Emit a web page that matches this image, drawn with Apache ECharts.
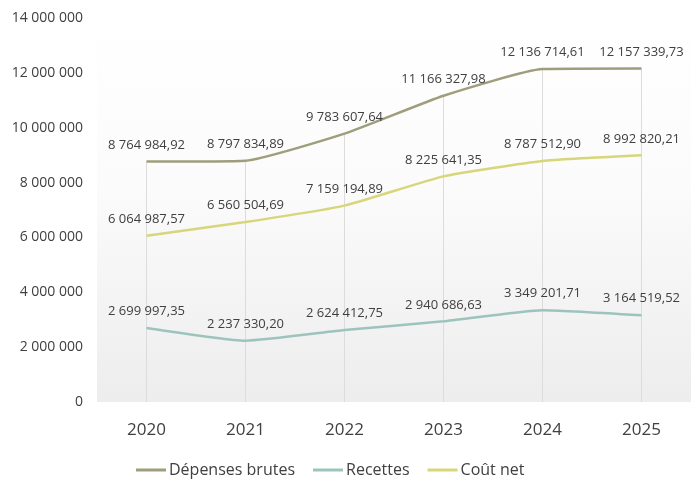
<!DOCTYPE html>
<html>
<head>
<meta charset="utf-8">
<script src="https://cdn.jsdelivr.net/npm/echarts@6/dist/echarts.min.js"></script>
<style>
  html, body { margin: 0; padding: 0; background: #ffffff; }
  #chart { width: 691px; height: 479px; }
</style>
</head>
<body>
<div id="chart"></div>
<script>
// Budget par année : dépenses brutes, recettes et coût net
const years = ['2020', '2021', '2022', '2023', '2024', '2025'];
const depensesBrutes = [8764984.92, 8797834.89, 9783607.64, 11166327.98, 12136714.61, 12157339.73];
const recettes = [2699997.35, 2237330.20, 2624412.75, 2940686.63, 3349201.71, 3164519.52];
const coutNet = [6064987.57, 6560504.69, 7159194.89, 8225641.35, 8787512.90, 8992820.21];
const yTicks = [0, 2000000, 4000000, 6000000, 8000000, 10000000, 12000000, 14000000];

const FONT = '"Open Sans", "Liberation Sans", sans-serif';

function groupThousands(intStr) {
  return intStr.replace(/\B(?=(\d{3})+(?!\d))/g, ' ');
}
function fmtDecimal(v) {
  const parts = v.toFixed(2).split('.');
  return groupThousands(parts[0]) + ',' + parts[1];
}
function fmtInt(v) {
  return groupThousands(String(Math.round(v)));
}

// Lignes de rappel verticales, du sommet de la série la plus haute jusqu'à l'axe
const dropLines = years.map((y, i) => {
  const top = Math.max(depensesBrutes[i], recettes[i], coutNet[i]);
  return [{ xAxis: y, yAxis: 0 }, { xAxis: y, yAxis: top }];
});

const labelStyle = {
  show: true,
  position: 'top',
  distance: 10,
  color: '#404040',
  fontSize: 13,
  fontFamily: FONT,
  formatter: p => fmtDecimal(p.value)
};

function lineSeries(name, data, color, extra) {
  return Object.assign({
    name: name,
    type: 'line',
    data: data,
    smooth: 0.15,
    symbol: 'circle',
    symbolSize: 0.01,
    showSymbol: true,
    lineStyle: { color: color, width: 2.5 },
    itemStyle: { color: color },
    label: labelStyle,
    z: 3
  }, extra || {});
}

const chart = echarts.init(document.getElementById('chart'), null, { renderer: 'canvas' });
chart.setOption({
  animation: false,
  backgroundColor: '#ffffff',
  grid: {
    left: 97, top: 18, width: 598, height: 384,
    show: true,
    borderWidth: 0,
    backgroundColor: {
      type: 'linear', x: 0, y: 0, x2: 0, y2: 1,
      colorStops: [
        { offset: 0, color: '#ffffff' },
        { offset: 0.45, color: '#fbfbfb' },
        { offset: 1, color: '#ededed' }
      ]
    }
  },
  legend: {
    top: 457,
    left: 131,
    icon: 'rect',
    itemWidth: 30,
    itemHeight: 3,
    itemGap: 18,
    textStyle: { color: '#404040', fontSize: 16, fontFamily: FONT, padding: [0, 0, 0, -2] },
    data: ['Dépenses brutes', 'Recettes', 'Coût net']
  },
  xAxis: {
    type: 'category',
    data: years,
    boundaryGap: true,
    axisLine: { show: false },
    axisTick: { show: false },
    splitLine: { show: false },
    axisLabel: { color: '#404040', fontSize: 17, fontFamily: FONT, margin: 20 }
  },
  yAxis: {
    type: 'value',
    min: yTicks[0],
    max: yTicks[yTicks.length - 1],
    interval: yTicks[1] - yTicks[0],
    axisLine: { show: false },
    axisTick: { show: false },
    splitLine: { show: false },
    axisLabel: {
      color: '#404040', fontSize: 14, fontFamily: FONT, margin: 14,
      formatter: v => fmtInt(v)
    }
  },
  series: [
    lineSeries('Dépenses brutes', depensesBrutes, '#9e9e7c', {
      markLine: {
        silent: true,
        symbol: 'none',
        label: { show: false },
        lineStyle: { color: '#dcdcdc', width: 1, type: 'solid' },
        data: dropLines,
        z: 1
      }
    }),
    lineSeries('Recettes', recettes, '#9dc4bc'),
    lineSeries('Coût net', coutNet, '#d7d67a')
  ]
});
</script>
</body>
</html>
